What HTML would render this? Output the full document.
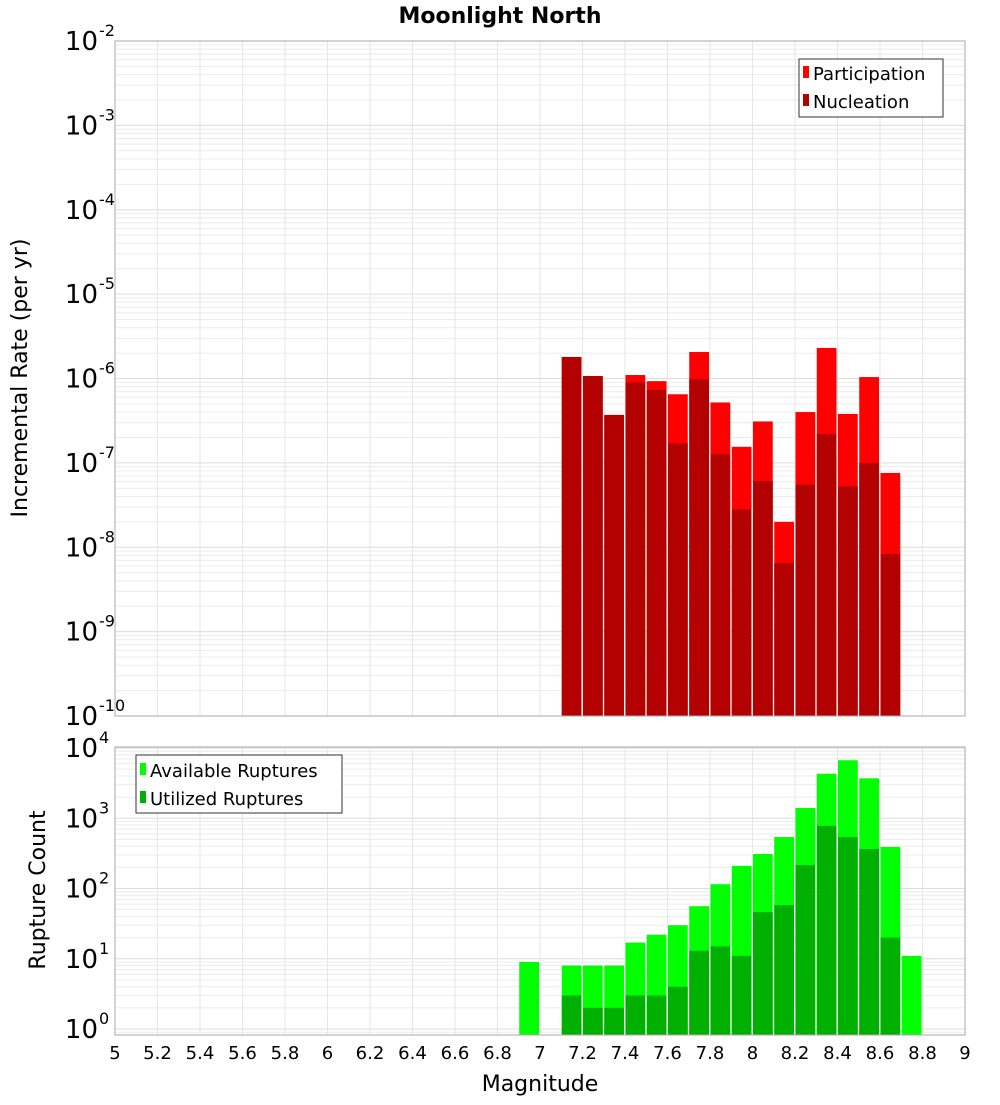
<!DOCTYPE html>
<html><head><meta charset="utf-8">
<style>
body{margin:0;background:#fff;font-family:"Liberation Sans","DejaVu Sans",sans-serif;}
svg text{font-family:"DejaVu Sans","Liberation Sans",sans-serif;}
</style></head>
<body>
<svg id="chart" width="1000" height="1100" viewBox="0 0 1000 1100" xmlns="http://www.w3.org/2000/svg">
<text x="500" y="23" text-anchor="middle" font-size="22" font-weight="bold">Moonlight North</text>
<g id="top"></g>
<g id="bot"></g>
</svg>
<script>
// Data
const topBins = [7.1,7.2,7.3,7.4,7.5,7.6,7.7,7.8,7.9,8.0,8.1,8.2,8.3,8.4,8.5,8.6];
const participation = [1.8e-6,1.07e-6,3.7e-7,1.1e-6,9.3e-7,6.5e-7,2.06e-6,5.2e-7,1.55e-7,3.1e-7,2.0e-8,4.0e-7,2.3e-6,3.8e-7,1.04e-6,7.6e-8];
const nucleation = [1.8e-6,1.07e-6,3.7e-7,9.0e-7,7.3e-7,1.7e-7,9.8e-7,1.27e-7,2.8e-8,6.1e-8,6.5e-9,5.5e-8,2.2e-7,5.3e-8,1.0e-7,8.3e-9];
const botBins = [6.9,7.1,7.2,7.3,7.4,7.5,7.6,7.7,7.8,7.9,8.0,8.1,8.2,8.3,8.4,8.5,8.6,8.7];
const available = [9,8,8,8,17,22,30,56,115,210,310,540,1400,4300,6700,3700,390,11];
const utilized = [0,3,2,2,3,3,4,13,15,11,46,58,215,780,540,365,20,0];
const xTicks = [5,5.2,5.4,5.6,5.8,6,6.2,6.4,6.6,6.8,7,7.2,7.4,7.6,7.8,8,8.2,8.4,8.6,8.8,9];
const topExp = [-10,-9,-8,-7,-6,-5,-4,-3,-2];
const botExp = [0,1,2,3,4];

const NS="http://www.w3.org/2000/svg";
const X0=115,X1=965;
const x=v=>X0+(v-5)/4*(X1-X0);
const yTop=v=>716-(Math.log10(v)+10)*84.375;
const yBot=v=>1029-Math.log10(v)*70.25;
function mk(p,tag,at){const e=document.createElementNS(NS,tag);for(const k in at)e.setAttribute(k,at[k]);p.appendChild(e);return e;}

function panel(g,yT,yB,yf,lo,hi,exps,name){
  for(let d=lo;d<hi;d++){for(let m=1;m<10;m++){const yy=yf(m*Math.pow(10,d));if(yy<yT||yy>yB)continue;
    const l=mk(g,'line',{x1:X0,x2:X1,y1:yy,y2:yy,stroke:m==1?'#dcdcdc':'#ececec','stroke-width':1});
    
    }}
  xTicks.forEach(t=>{const l=mk(g,'line',{x1:x(t),x2:x(t),y1:yT,y2:yB,stroke:'#e6e6e6','stroke-width':1});
    
    });
  exps.forEach(e=>{const yy=yf(Math.pow(10,e));
    const t=mk(g,'text',{x:98,y:yy+9,'text-anchor':'end','font-size':26});t.textContent='10';
    
    
    const s=mk(g,'text',{x:99,y:yy-5,'font-size':16});s.textContent=String(e);
    
    });
}
const tg=document.getElementById('top'),bg=document.getElementById('bot');
panel(tg,41,716,yTop,-10,-2,topExp,'top');
panel(bg,747,1035,yBot,-1,5,botExp,'bottom');
const bw=(X1-X0)/40-1.5;
topBins.forEach((b,i)=>{
  const p=mk(tg,'rect',{x:x(b)+0.5,y:yTop(participation[i]),width:bw,height:716-yTop(participation[i]),fill:'#ff0000'});
  
  
  const n=mk(tg,'rect',{x:x(b)+0.5,y:yTop(nucleation[i]),width:bw,height:716-yTop(nucleation[i]),fill:'#b30000'});
  
  
});
botBins.forEach((b,i)=>{
  const a=mk(bg,'rect',{x:x(b)+0.5,y:yBot(available[i]),width:bw,height:1035-yBot(available[i]),fill:'#00ff00'});
  
  
  if(utilized[i]>0){const u=mk(bg,'rect',{x:x(b)+0.5,y:yBot(utilized[i]),width:bw,height:1035-yBot(utilized[i]),fill:'#00b000'});
  
  }
});
[[41,716],[747,1035]].forEach(r=>{const f=mk(document.getElementById('chart'),'rect',{x:X0,y:r[0],width:X1-X0,height:r[1]-r[0],fill:'none',stroke:'#aaaaaa','stroke-width':1});
  
  });
const svg=document.getElementById('chart');
xTicks.forEach(t=>{const l=mk(svg,'text',{x:x(t),y:1059,'text-anchor':'middle','font-size':18});l.textContent=String(t);
  
  });
</script>
<svg style="position:absolute;left:0;top:0" width="1000" height="1100">
<text x="540" y="1091" text-anchor="middle" font-size="22">Magnitude</text>
<text transform="translate(27,378) rotate(-90)" text-anchor="middle" font-size="22">Incremental Rate (per yr)</text>
<text transform="translate(45,890) rotate(-90)" text-anchor="middle" font-size="22">Rupture Count</text>
<g>
<rect x="799" y="59" width="144" height="58" fill="#fff" stroke="#333"/>
<rect x="803" y="66" width="6" height="12" fill="#ff0000"/>
<text x="813" y="80" font-size="18">Participation</text>
<rect x="803" y="94" width="6" height="12" fill="#b30000"/>
<text x="813" y="108" font-size="18">Nucleation</text>
</g>
<g>
<rect x="136" y="755" width="206" height="58" fill="#fff" stroke="#333"/>
<rect x="140" y="763" width="6" height="12" fill="#00ff00"/>
<text x="150" y="777" font-size="18">Available Ruptures</text>
<rect x="140" y="791" width="6" height="12" fill="#00b000"/>
<text x="150" y="805" font-size="18">Utilized Ruptures</text>
</g>
</svg>
</body></html>
